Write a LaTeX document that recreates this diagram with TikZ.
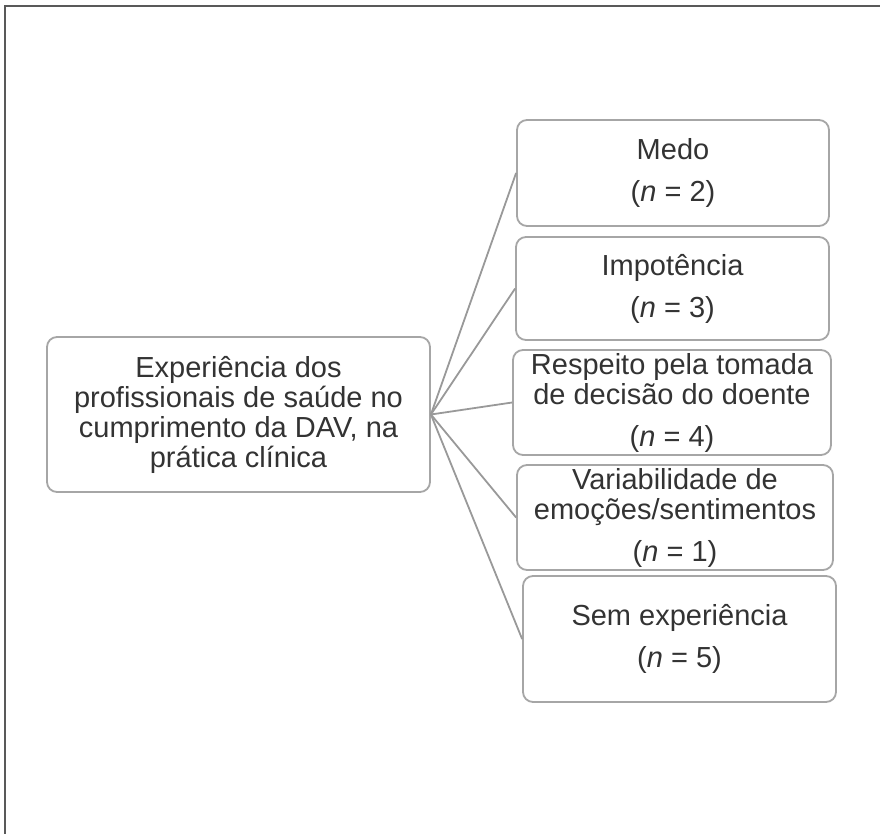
\documentclass[tikz,border=0pt]{standalone}
\usepackage{fontspec}
\setmainfont{Liberation Sans}
\begin{document}
\begin{tikzpicture}[x=1pt,y=-1pt,
  box/.style={draw=black!35, line width=1.8pt, rounded corners=10pt, fill=white,
    inner sep=0pt, align=center, text=black!80,
    font=\fontsize{29}{30}\selectfont},
  conn/.style={draw=black!40, line width=1.8pt}]
\useasboundingbox (0,0) rectangle (880,834);
\draw[black!65, line width=2pt] (5,834) -- (5,6) -- (880,6);
\node[box, minimum width=383pt, minimum height=155pt] (c) at (238.5,414.5)
  {Experiência dos\\profissionais de saúde no\\cumprimento da DAV, na\\prática clínica};
\node[box, minimum width=312pt, minimum height=106pt] (a1) at (673,173)
  {Medo\\[12pt](\textit{n} = 2)};
\node[box, minimum width=313pt, minimum height=103pt] (a2) at (672.5,288.5)
  {Impotência\\[12pt](\textit{n} = 3)};
\node[box, minimum width=318pt, minimum height=105pt] (a3) at (672,402.5)
  {Respeito pela tomada\\de decisão do doente\\[12pt](\textit{n} = 4)};
\node[box, minimum width=316pt, minimum height=105pt] (a4) at (675,517.5)
  {Variabilidade de\\emoções/sentimentos\\[12pt](\textit{n} = 1)};
\node[box, minimum width=313pt, minimum height=126pt] (a5) at (679.5,639)
  {Sem experiência\\[12pt](\textit{n} = 5)};
\foreach \t in {a1,a2,a3,a4,a5} \draw[conn] (c.east) -- (\t.west);
\end{tikzpicture}
\end{document}
